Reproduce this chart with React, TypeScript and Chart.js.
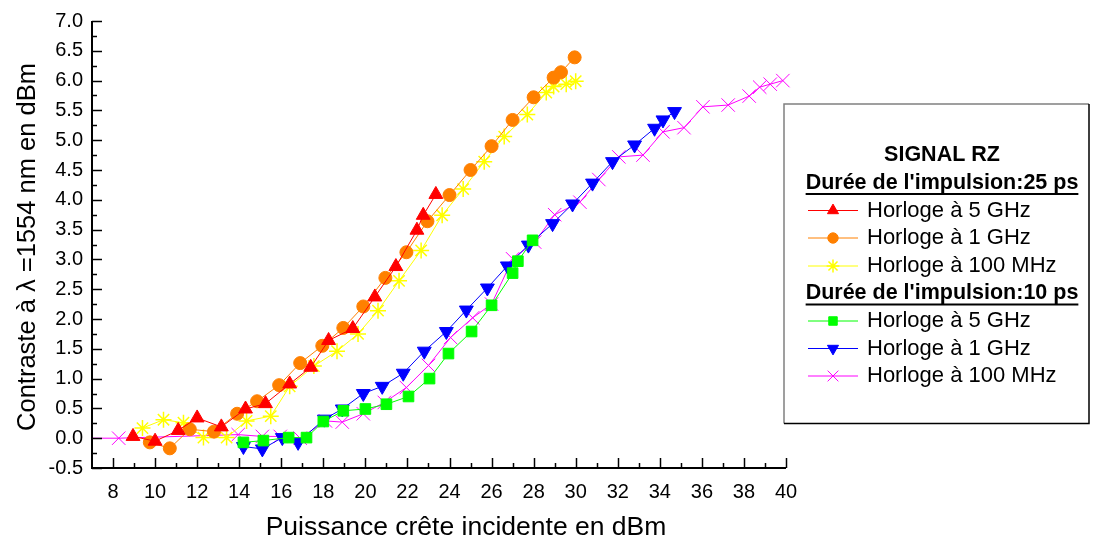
import React, { useEffect, useRef } from 'react';
import { Chart, registerables } from 'chart.js';
import { drawPoint } from 'chart.js/helpers';

Chart.register(...registerables);

// ---- Data ----
const xTickValues = [8, 10, 12, 14, 16, 18, 20, 22, 24, 26, 28, 30, 32, 34, 36, 38, 40];
const yTickValues = [-0.5, 0, 0.5, 1, 1.5, 2, 2.5, 3, 3.5, 4, 4.5, 5, 5.5, 6, 6.5, 7];

// Durée de l'impulsion : 25 ps
const p25_5GHzX = [8.95, 10.0, 11.1, 12.0, 13.15, 14.3, 15.25, 16.4, 17.4, 18.25, 19.4, 20.45, 21.45, 22.45, 22.75, 23.35];
const p25_5GHzY = [0.03, -0.05, 0.13, 0.34, 0.19, 0.49, 0.58, 0.91, 1.19, 1.64, 1.84, 2.37, 2.88, 3.49, 3.74, 4.09];

const p25_1GHzX = [9.75, 10.7, 11.65, 12.8, 13.9, 14.85, 15.9, 16.9, 17.95, 18.95, 19.9, 20.95, 21.95, 22.95, 24.0, 25.0, 26.0, 27.0, 28.0, 28.95, 29.3, 29.95];
const p25_1GHzY = [-0.07, -0.17, 0.15, 0.11, 0.41, 0.62, 0.89, 1.26, 1.55, 1.85, 2.21, 2.69, 3.12, 3.64, 4.08, 4.5, 4.9, 5.34, 5.72, 6.05, 6.14, 6.39];

const p25_100MHzX = [9.4, 10.4, 11.35, 12.3, 13.4, 14.35, 15.5, 16.4, 17.55, 18.65, 19.65, 20.6, 21.6, 22.65, 23.65, 24.65, 25.65, 26.6, 27.7, 28.6, 28.95, 29.55, 30.0];
const p25_100MHzY = [0.17, 0.31, 0.26, 0.01, 0.01, 0.29, 0.37, 0.87, 1.21, 1.46, 1.75, 2.14, 2.64, 3.15, 3.74, 4.18, 4.64, 5.06, 5.43, 5.8, 5.9, 5.94, 5.99];

// Durée de l'impulsion : 10 ps
const p10_5GHzX = [14.2, 15.15, 16.35, 17.2, 18.0, 18.95, 20.0, 21.0, 22.05, 23.05, 23.95, 25.05, 26.0, 27.0, 27.25, 27.95];
const p10_5GHzY = [-0.07, -0.04, 0.01, 0.01, 0.28, 0.46, 0.49, 0.57, 0.7, 1.0, 1.42, 1.79, 2.23, 2.77, 2.97, 3.32];

const p10_1GHzX = [14.2, 15.1, 16.05, 16.8, 18.05, 18.9, 19.9, 20.8, 21.8, 22.8, 23.85, 24.8, 25.8, 26.75, 27.75, 28.9, 29.85, 30.8, 31.75, 32.8, 33.75, 34.15, 34.7];
const p10_1GHzY = [-0.14, -0.18, 0.01, -0.07, 0.32, 0.49, 0.75, 0.87, 1.09, 1.46, 1.79, 2.15, 2.52, 2.89, 3.24, 3.6, 3.93, 4.28, 4.64, 4.92, 5.2, 5.34, 5.48];

const p10_100MHzX = [6.5, 8.27, 13.95, 15.1, 15.95, 16.9, 18.1, 18.9, 19.9, 20.9, 21.95, 23.0, 24.05, 25.1, 26.0, 27.0, 28.05, 29.0, 30.2, 31.1, 32.05, 33.2, 34.15, 35.15, 36.05, 37.25, 38.25, 38.75, 39.25, 39.85];
const p10_100MHzY = [0.0, 0.0, 0.06, 0.03, 0.03, 0.0, 0.29, 0.27, 0.41, 0.6, 0.85, 1.22, 1.69, 2.02, 2.25, 3.01, 3.29, 3.75, 3.96, 4.34, 4.72, 4.75, 5.14, 5.21, 5.56, 5.59, 5.74, 5.89, 5.94, 6.0];

const seriesLabels = ['Horloge à 5 GHz', 'Horloge à 1 GHz', 'Horloge à 100 MHz', 'Horloge à 5 GHz', 'Horloge à 1 GHz', 'Horloge à 100 MHz'];
const groupHeaders = ["Durée de l'impulsion:25 ps", "Durée de l'impulsion:10 ps"];
const legendTitle = 'SIGNAL RZ';
const xTitle = 'Puissance crête incidente en dBm';
const yTitle = 'Contraste à λ =1554 nm en dBm';

const FONT = "'Liberation Sans', Arial, Helvetica, sans-serif";

function pts(xs: number[], ys: number[]) {
  return xs.map((x, i) => ({ x, y: ys[i] }));
}

const legendPlugin = {
  id: 'customLegend',
  afterDraw(chart: any) {
    const ctx: CanvasRenderingContext2D = chart.ctx;
    ctx.save();
    // box
    const bx = 784, by = 104, bw = 305, bh = 319.5;
    ctx.fillStyle = '#ffffff';
    ctx.fillRect(bx, by, bw, bh);
    ctx.lineWidth = 1.5;
    ctx.strokeStyle = '#808080';
    ctx.beginPath();
    ctx.moveTo(bx, by + bh);
    ctx.lineTo(bx, by);
    ctx.lineTo(bx + bw, by);
    ctx.stroke();
    ctx.strokeStyle = '#000000';
    ctx.beginPath();
    ctx.moveTo(bx + bw, by);
    ctx.lineTo(bx + bw, by + bh);
    ctx.lineTo(bx, by + bh);
    ctx.stroke();

    const cx = 942;
    ctx.fillStyle = '#000';
    ctx.textBaseline = 'middle';
    ctx.textAlign = 'center';
    ctx.font = `bold 21.5px ${FONT}`;
    ctx.fillText(legendTitle, cx, 155.5);

    const header = (text: string, y: number) => {
      ctx.font = `bold 21.5px ${FONT}`;
      ctx.textAlign = 'center';
      ctx.fillStyle = '#000';
      ctx.fillText(text, cx, y);
      const w = ctx.measureText(text).width;
      ctx.lineWidth = 2;
      ctx.strokeStyle = '#000';
      ctx.beginPath();
      ctx.moveTo(cx - w / 2, y + 11);
      ctx.lineTo(cx + w / 2, y + 11);
      ctx.stroke();
    };
    header(groupHeaders[0], 183);
    header(groupHeaders[1], 293.5);

    const rowsY = [210.5, 238, 266, 321, 348.5, 376];
    chart.data.datasets.forEach((ds: any, i: number) => {
      const y = rowsY[i];
      ctx.lineWidth = 1;
      ctx.strokeStyle = ds.borderColor;
      ctx.beginPath();
      ctx.moveTo(808, y);
      ctx.lineTo(858, y);
      ctx.stroke();
      ctx.fillStyle = ds.pointBackgroundColor;
      ctx.strokeStyle = ds.pointBorderColor;
      ctx.lineWidth = ds.pointBorderWidth;
      drawPoint(ctx, {
        pointStyle: ds.pointStyle,
        rotation: ds.pointRotation || 0,
        radius: ds.pointRadius * 0.8,
        borderWidth: ds.pointBorderWidth,
      } as any, 833, y);
      ctx.fillStyle = '#000';
      ctx.textAlign = 'left';
      ctx.font = `22px ${FONT}`;
      ctx.fillText(seriesLabels[i], 867, y);
    });
    ctx.restore();
  },
};

const axesPlugin = {
  id: 'axesAndTicks',
  afterDatasetsDraw(chart: any) {
    const ctx: CanvasRenderingContext2D = chart.ctx;
    const { left, right, top, bottom } = chart.chartArea;
    const xs = chart.scales.x;
    const ys = chart.scales.y;
    ctx.save();
    ctx.strokeStyle = '#000';
    ctx.lineWidth = 1.5;
    // x ticks (inward)
    for (let i = 0; i < xTickValues.length; i++) {
      const v = xTickValues[i];
      const px = Math.round(xs.getPixelForValue(v)) + 0.5;
      ctx.beginPath();
      ctx.moveTo(px, bottom);
      ctx.lineTo(px, bottom - 10);
      ctx.stroke();
      if (i < xTickValues.length - 1) {
        const m = (v + xTickValues[i + 1]) / 2;
        const pm = Math.round(xs.getPixelForValue(m)) + 0.5;
        ctx.beginPath();
        ctx.moveTo(pm, bottom);
        ctx.lineTo(pm, bottom - 5);
        ctx.stroke();
      }
    }
    // y ticks (inward)
    for (let i = 0; i < yTickValues.length; i++) {
      const v = yTickValues[i];
      const py = Math.round(ys.getPixelForValue(v)) + 0.5;
      ctx.beginPath();
      ctx.moveTo(left, py);
      ctx.lineTo(left + 10, py);
      ctx.stroke();
      if (i < yTickValues.length - 1) {
        const m = (v + yTickValues[i + 1]) / 2;
        const pm = Math.round(ys.getPixelForValue(m)) + 0.5;
        ctx.beginPath();
        ctx.moveTo(left, pm);
        ctx.lineTo(left + 5, pm);
        ctx.stroke();
      }
    }
    // axis lines
    ctx.lineWidth = 2;
    ctx.beginPath();
    ctx.moveTo(left, top);
    ctx.lineTo(left, bottom);
    ctx.lineTo(right, bottom);
    ctx.stroke();

    // axis titles
    ctx.fillStyle = '#000';
    ctx.font = `26.5px ${FONT}`;
    ctx.textAlign = 'center';
    ctx.textBaseline = 'alphabetic';
    ctx.fillText(xTitle, 466, 535);
    ctx.translate(35, 247);
    ctx.rotate(-Math.PI / 2);
    ctx.font = `25.5px ${FONT}`;
    ctx.fillText(yTitle, 0, 0);
    ctx.restore();
  },
};

function makeDs(label: string, xs: number[], ys: number[], color: string, style: string, radius: number, extra: any = {}) {
  return {
    label,
    data: pts(xs, ys),
    borderColor: color,
    backgroundColor: color,
    borderWidth: 1,
    pointStyle: style,
    pointRadius: radius,
    pointHoverRadius: radius,
    pointBackgroundColor: color,
    pointBorderColor: color,
    pointBorderWidth: 1,
    tension: 0,
    fill: false,
    ...extra,
  };
}

export default function App() {
  const ref = useRef<HTMLCanvasElement | null>(null);
  useEffect(() => {
    if (!ref.current) return;
    const datasets = [
      makeDs(seriesLabels[0], p25_5GHzX, p25_5GHzY, '#ff0000', 'triangle', 8),
      makeDs(seriesLabels[1], p25_1GHzX, p25_1GHzY, '#ff8000', 'circle', 6.5),
      makeDs(seriesLabels[2], p25_100MHzX, p25_100MHzY, '#ffff00', 'star', 8, { pointBorderWidth: 1.5 }),
      makeDs(seriesLabels[3], p10_5GHzX, p10_5GHzY, '#00ff00', 'rect', 7.5),
      makeDs(seriesLabels[4], p10_1GHzX, p10_1GHzY, '#0000ff', 'triangle', 8, { pointRotation: 180 }),
      makeDs(seriesLabels[5], p10_100MHzX, p10_100MHzY, '#ff00ff', 'crossRot', 9.5, { clip: { left: 0, top: 12, right: 12, bottom: 12 } }),
    ];
    const chart = new Chart(ref.current, {
      type: 'line',
      data: { datasets } as any,
      options: {
        responsive: false,
        animation: false,
        devicePixelRatio: 1,
        layout: { padding: { left: 0, right: 307, top: 21, bottom: 0 } },
        plugins: { legend: { display: false }, tooltip: { enabled: false } },
        scales: {
          x: {
            type: 'linear',
            min: 7,
            max: 40,
            grid: { display: false, drawTicks: false },
            border: { display: false },
            ticks: {
              autoSkip: false,
              maxRotation: 0,
              padding: 12,
              color: '#000',
              font: { family: FONT, size: 20 },
              callback: (v: any) => String(v),
            },
            afterBuildTicks: (s: any) => {
              s.ticks = xTickValues.map((v) => ({ value: v }));
            },
            afterFit: (s: any) => {
              s.height = 70;
            },
          },
          y: {
            type: 'linear',
            min: -0.5,
            max: 7,
            grid: { display: false, drawTicks: false },
            border: { display: false },
            ticks: {
              autoSkip: false,
              padding: 9,
              color: '#000',
              font: { family: FONT, size: 20 },
              callback: (v: any) => Number(v).toFixed(1),
            },
            afterBuildTicks: (s: any) => {
              s.ticks = yTickValues.map((v) => ({ value: v }));
            },
            afterFit: (s: any) => {
              s.width = 92;
            },
          },
        },
      } as any,
      plugins: [axesPlugin, legendPlugin],
    });
    return () => chart.destroy();
  }, []);
  return (
    <div style={{ position: 'fixed', left: 0, top: 0, width: 1093, height: 538, background: '#fff' }}>
      <canvas ref={ref} width={1093} height={538} style={{ width: 1093, height: 538, display: 'block' }} />
    </div>
  );
}
